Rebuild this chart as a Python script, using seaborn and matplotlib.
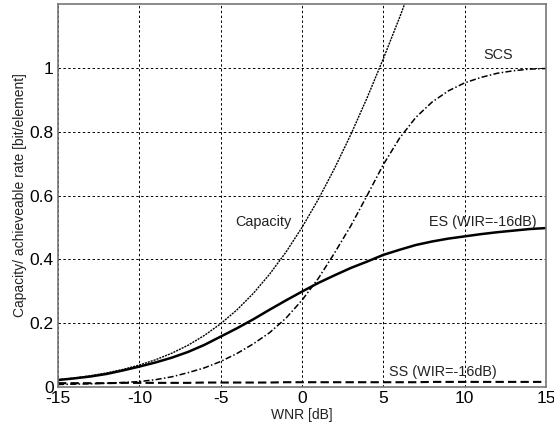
import numpy as np
import pandas as pd
import seaborn as sns
import matplotlib
matplotlib.use("Agg")
import matplotlib.pyplot as plt

# WNR axis [dB]
wnr = list(range(-15, 16))

# valeurs
capacity = [0.0224, 0.0282, 0.0353, 0.0441, 0.0551, 0.0688, 0.0855, 0.1060, 0.1310, 0.1617,
            0.1982, 0.2417, 0.2930, 0.3530, 0.4216, 0.5000, 0.5878, 0.6850, 0.7910, 0.9060,
            1.0290, 1.1580, 1.2940, None, None, None, None, None, None, None, None]
scs = [0.008, 0.009, 0.010, 0.012, 0.014, 0.017, 0.023, 0.032, 0.045, 0.060,
       0.080, 0.105, 0.135, 0.170, 0.215, 0.272, 0.340, 0.420, 0.505, 0.600,
       0.697, 0.780, 0.845, 0.893, 0.928, 0.953, 0.970, 0.983, 0.991, 0.996, 0.998]
es = [0.022, 0.027, 0.033, 0.041, 0.052, 0.064, 0.077, 0.092, 0.110, 0.132,
      0.158, 0.184, 0.212, 0.242, 0.271, 0.299, 0.326, 0.350, 0.373, 0.393,
      0.414, 0.430, 0.445, 0.456, 0.465, 0.472, 0.479, 0.485, 0.490, 0.495, 0.498]
ss = [0.012, 0.012, 0.012, 0.012, 0.013, 0.013, 0.013, 0.013, 0.013, 0.014,
      0.014, 0.014, 0.014, 0.014, 0.015, 0.015, 0.015, 0.015, 0.015, 0.015,
      0.015, 0.015, 0.015, 0.016, 0.016, 0.016, 0.016, 0.016, 0.016, 0.016, 0.016]

x_ticks = [-15, -10, -5, 0, 5, 10, 15]
y_ticks = [0, 0.2, 0.4, 0.6, 0.8, 1]
y_tick_labels = ["0", "0.2", "0.4", "0.6", "0.8", "1"]

df = pd.DataFrame({"WNR": wnr, "Capacity": capacity, "SCS": scs, "ES": es, "SS": ss})
df = df.astype(float)

sns.set_style("white")
plt.rcParams['font.family'] = ['Liberation Sans', 'DejaVu Sans']

fig = plt.figure(figsize=(5.54, 4.37), dpi=100)
ax = fig.add_axes([0.1047, 0.1144, 0.8809, 0.8764])

sns.lineplot(data=df, x="WNR", y="Capacity", ax=ax, color="black", linewidth=1.0,
             linestyle=(0, (1.5, 0.7)))
sns.lineplot(data=df, x="WNR", y="SCS", ax=ax, color="black", linewidth=1.1,
             linestyle=(0, (4, 1.5, 1, 1.5)))
sns.lineplot(data=df, x="WNR", y="ES", ax=ax, color="black", linewidth=1.8)
sns.lineplot(data=df, x="WNR", y="SS", ax=ax, color="black", linewidth=1.5,
             linestyle=(0, (4, 2)))

ax.set_xlim(-15, 15)
ax.set_ylim(0, 1.2)
ax.set_xticks(x_ticks)
ax.set_xticklabels([str(t) for t in x_ticks])
ax.set_yticks(y_ticks)
ax.set_yticklabels(y_tick_labels)
ax.tick_params(direction="in", length=4, labelsize=12.5, colors="black", width=0.8, pad=3)

ax.grid(True, color="black", linestyle=(0, (2.5, 2.5)), linewidth=0.7)
ax.set_axisbelow(True)
for s in ax.spines.values():
    s.set_color("#777777")
    s.set_linewidth(1.2)

ax.set_xlabel("WNR [dB]", fontsize=10, color="#222222", labelpad=1)
ax.set_ylabel("Capacity/ achieveable rate [bit/element]", fontsize=10, color="#222222", labelpad=2)

# annotations des courbes
ax.text(-2.4, 0.518, "Capacity", fontsize=10.4, color="#222222", ha="center", va="center")
ax.text(12.05, 1.04, "SCS", fontsize=10.4, color="#222222", ha="center", va="center")
ax.text(11.1, 0.518, "ES (WIR=-16dB)", fontsize=10.4, color="#222222", ha="center", va="center")
ax.text(8.67, 0.048, "SS (WIR=-16dB)", fontsize=10.4, color="#222222", ha="center", va="center")

fig.savefig("out.png", dpi=100)
